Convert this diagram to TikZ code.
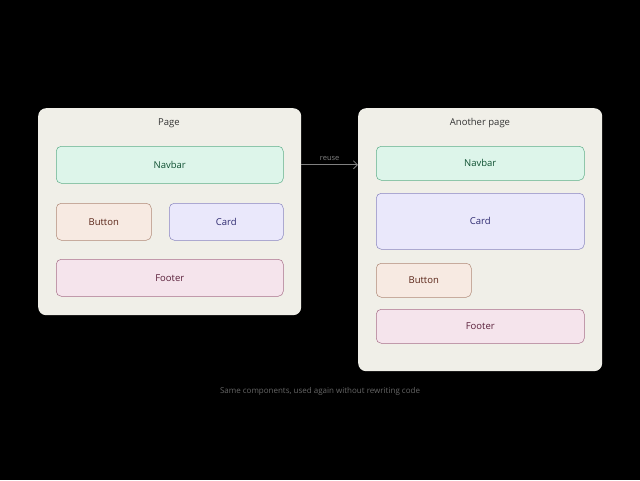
\documentclass[tikz,border=0pt]{standalone}
\usepackage{fontspec}
\setmainfont{Open Sans}
\usetikzlibrary{arrows.meta, positioning}

\definecolor{panelbg}{HTML}{F0EFE8}
\definecolor{navfill}{HTML}{DDF5EA}
\definecolor{navdraw}{HTML}{5FAF8A}
\definecolor{navtext}{HTML}{0F5132}
\definecolor{btnfill}{HTML}{F7EAE2}
\definecolor{btndraw}{HTML}{B08A78}
\definecolor{btntext}{HTML}{5A2518}
\definecolor{cardfill}{HTML}{EAE8FB}
\definecolor{carddraw}{HTML}{8A86C0}
\definecolor{cardtext}{HTML}{2E2A70}
\definecolor{footfill}{HTML}{F5E4EC}
\definecolor{footdraw}{HTML}{A8708A}
\definecolor{foottext}{HTML}{5A1F3A}

\tikzset{
  panel/.style={fill=panelbg, draw=none, rounded corners=8pt, anchor=north west},
  box/.style={rounded corners=5pt, anchor=north west, line width=0.5pt, font=\fontsize{9.5}{11}\selectfont},
  navbox/.style={box, fill=navfill, draw=navdraw, text=navtext},
  btnbox/.style={box, fill=btnfill, draw=btndraw, text=btntext},
  cardbox/.style={box, fill=cardfill, draw=carddraw, text=cardtext},
  footbox/.style={box, fill=footfill, draw=footdraw, text=foottext},
  title/.style={font=\fontsize{9.5}{11}\selectfont, text=black!80}
}

\begin{document}
\begin{tikzpicture}[x=1pt, y=-1pt]
		% Background
		\fill[black] (0,0) rectangle (640,480);
		\useasboundingbox (0,0) rectangle (640,480);
		
		% Left page
		\node[panel, minimum width=263pt, minimum height=207pt] (page) at (38,108) {};
		\node[title] (pagetitle) at (169,123) {Page};
		\node[navbox, minimum width=227pt, minimum height=37pt] (nav1) at (56,146) {Navbar};
		\node[btnbox, minimum width=95pt, minimum height=37pt] (btn1) at (56,203) {Button};
		\node[cardbox, minimum width=114pt, minimum height=37pt] (card1) at (169,203) {Card};
		\node[footbox, minimum width=227pt, minimum height=37pt] (foot1) at (56,259) {Footer};
		
		% Right page
		\node[panel, minimum width=244pt, minimum height=263pt] (other) at (358,108) {};
		\node[title] (othertitle) at (480,123) {Another page};
		\node[navbox, minimum width=208pt, minimum height=34pt] (nav2) at (376,146) {Navbar};
		\node[cardbox, minimum width=208pt, minimum height=56pt] (card2) at (376,193) {Card};
		\node[btnbox, minimum width=95pt, minimum height=34pt] (btn2) at (376,263) {Button};
		\node[footbox, minimum width=208pt, minimum height=34pt] (foot2) at (376,309) {Footer};
		
		% Reuse arrow
		\draw[-{Straight Barb[length=4pt]}, gray, line width=0.8pt] (page.east |- nav1.west) -- node[above, font=\fontsize{7.5}{9}\selectfont, text=gray] {reuse} (other.west |- nav1.west);
		
		% Caption
		\node[font=\fontsize{8}{10}\selectfont, text=black!60] (caption) at (320,391) {Same components, used again without rewriting code};
	\end{tikzpicture}
\end{document}
